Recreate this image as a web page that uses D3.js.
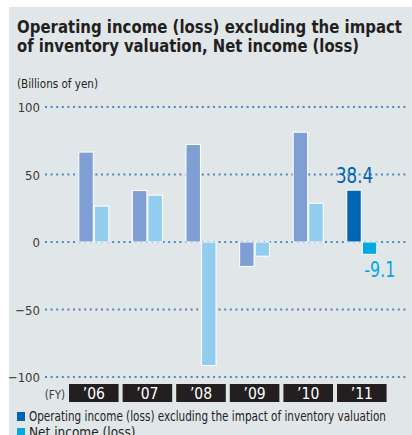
<!DOCTYPE html>
<html>
<head>
<meta charset="utf-8">
<script src="https://cdn.jsdelivr.net/npm/d3@7"></script>
<style>
  body { margin: 0; background: #fff; }
  svg { display: block; }
  text { font-family: "Liberation Sans Narrow", "DejaVu Sans Condensed", "Arial Narrow", sans-serif; }
</style>
</head>
<body>
<div id="chart"></div>
<script>
// fiscal years and values (billions of yen)
var years = ["’06", "’07", "’08", "’09", "’10", "’11"];
var operatingIncome = [66.6, 38.1, 72.2, -18.1, 81.3, 38.4];
var netIncome = [26.6, 34.7, -91.5, -10.5, 28.7, -9.1];
var yTicks = [100, 50, 0, -50, -100];
var legendLabels = ["Operating income (loss) excluding the impact of inventory valuation", "Net income (loss)"];

var W = 412, H = 435;

var svg = d3.select("#chart").append("svg")
	.attr("width", W)
	.attr("height", H);

// panel background
svg.append("rect")
	.attr("x", 9).attr("y", 7)
	.attr("width", W - 9).attr("height", H - 7)
	.attr("fill", "#e1e6e9");

// title
var title = svg.append("g").attr("fill", "#231f20").attr("font-weight", "bold").attr("font-size", 18.5);
title.append("text").attr("x", 17).attr("y", 33)
	.attr("textLength", 385).attr("lengthAdjust", "spacingAndGlyphs")
	.text("Operating income (loss) excluding the impact");
title.append("text").attr("x", 17).attr("y", 51.5)
	.attr("textLength", 342).attr("lengthAdjust", "spacingAndGlyphs")
	.text("of inventory valuation, Net income (loss)");

svg.append("text")
	.attr("x", 17).attr("y", 88)
	.attr("font-size", 11.5).attr("fill", "#231f20")
	.attr("textLength", 81).attr("lengthAdjust", "spacingAndGlyphs")
	.text("(Billions of yen)");

var y = d3.scaleLinear().domain([-100, 100]).range([377, 107]);

var x = d3.scaleBand().domain(years).range([67, 388.6]).paddingInner(0.075).paddingOuter(0.0375);
var xs = d3.scaleBand().domain(["op", "net"]).range([-15, 15]).paddingInner(0.07);

// gridlines (dotted)
svg.append("g").selectAll("line")
	.data(yTicks)
	.enter().append("line")
	.attr("x1", 45).attr("x2", 408)
	.attr("y1", function(d){ return y(d); })
	.attr("y2", function(d){ return y(d); })
	.attr("stroke", "#4f86c6")
	.attr("stroke-width", 1.8)
	.attr("stroke-dasharray", "2 3.6");

// y axis labels
var yAxis = d3.axisLeft(y).tickValues(yTicks).tickSize(0).tickPadding(0);
var ya = svg.append("g").attr("transform", "translate(40,0)").call(yAxis);
ya.select(".domain").remove();
ya.selectAll("text")
	.attr("font-size", 13)
	.attr("fill", "#3a3a3a")
	.style("font-family", "\"Liberation Sans Narrow\", \"DejaVu Sans Condensed\", sans-serif")
	.attr("dy", "0.36em");

var opColor = function(i){ return i === years.length - 1 ? "#0064b4" : "#7f9fd4"; };
var netColor = function(i){ return i === years.length - 1 ? "#00a9e0" : "#92cdf0"; };

function barY(v){ return Math.min(y(v), y(0)); }
function barH(v){ return Math.abs(y(v) - y(0)); }
function center(d){ return x(d) + x.bandwidth() / 2; }

var bars = svg.append("g");
bars.selectAll("rect.op")
	.data(years)
	.enter().append("rect")
	.attr("class", "op")
	.attr("x", function(d){ return center(d) + xs("op"); })
	.attr("width", xs.bandwidth())
	.attr("y", function(d, i){ return barY(operatingIncome[i]); })
	.attr("height", function(d, i){ return barH(operatingIncome[i]); })
	.attr("fill", function(d, i){ return opColor(i); })
	.attr("stroke", "#fff").attr("stroke-width", 1);

bars.selectAll("rect.net")
	.data(years)
	.enter().append("rect")
	.attr("class", "net")
	.attr("x", function(d){ return center(d) + xs("net"); })
	.attr("width", xs.bandwidth())
	.attr("y", function(d, i){ return barY(netIncome[i]); })
	.attr("height", function(d, i){ return barH(netIncome[i]); })
	.attr("fill", function(d, i){ return netColor(i); })
	.attr("stroke", "#fff").attr("stroke-width", 1);

// value labels for latest year
var last = years.length - 1;
svg.append("text")
	.attr("x", center(years[last]) + xs("op") + xs.bandwidth() / 2 - 18)
	.attr("y", y(operatingIncome[last]) - 7)
	.attr("font-size", 22).attr("fill", "#0064b4")
	.attr("textLength", 37).attr("lengthAdjust", "spacingAndGlyphs")
	.text(operatingIncome[last].toFixed(1));

svg.append("text")
	.attr("x", center(years[last]) + xs("net") + 2)
	.attr("y", y(netIncome[last]) + 23)
	.attr("font-size", 22).attr("fill", "#00a9e0")
	.attr("textLength", 31).attr("lengthAdjust", "spacingAndGlyphs")
	.text(netIncome[last].toFixed(1));

// year boxes
var xa = svg.append("g");
xa.selectAll("rect")
	.data(years)
	.enter().append("rect")
	.attr("x", function(d){ return x(d); })
	.attr("y", 384)
	.attr("width", x.bandwidth())
	.attr("height", 18)
	.attr("fill", "#231f20");
xa.selectAll("text")
	.data(years)
	.enter().append("text")
	.attr("x", function(d){ return center(d); })
	.attr("y", 399)
	.attr("text-anchor", "middle")
	.attr("font-size", 15.5).attr("fill", "#fff")
	.text(function(d){ return d; });

svg.append("text")
	.attr("x", 65).attr("y", 399)
	.attr("text-anchor", "end")
	.attr("font-size", 11.5).attr("fill", "#3a3a3a")
	.text("(FY)");

// legend
var legendColors = [opColor(last), netColor(last)];
var lg = svg.append("g").selectAll("g")
	.data(legendLabels)
	.enter().append("g")
	.attr("transform", function(d, i){ return "translate(17," + (412 + i * 16) + ")"; });
lg.append("rect")
	.attr("width", 8).attr("height", 9)
	.attr("fill", function(d, i){ return legendColors[i]; });
lg.append("text")
	.attr("x", 12).attr("y", 9)
	.attr("font-size", 13.5).attr("fill", "#231f20")
	.attr("textLength", function(d, i){ return i === 0 ? 357 : null; })
	.attr("lengthAdjust", "spacingAndGlyphs")
	.text(function(d){ return d; });
</script>
</body>
</html>
